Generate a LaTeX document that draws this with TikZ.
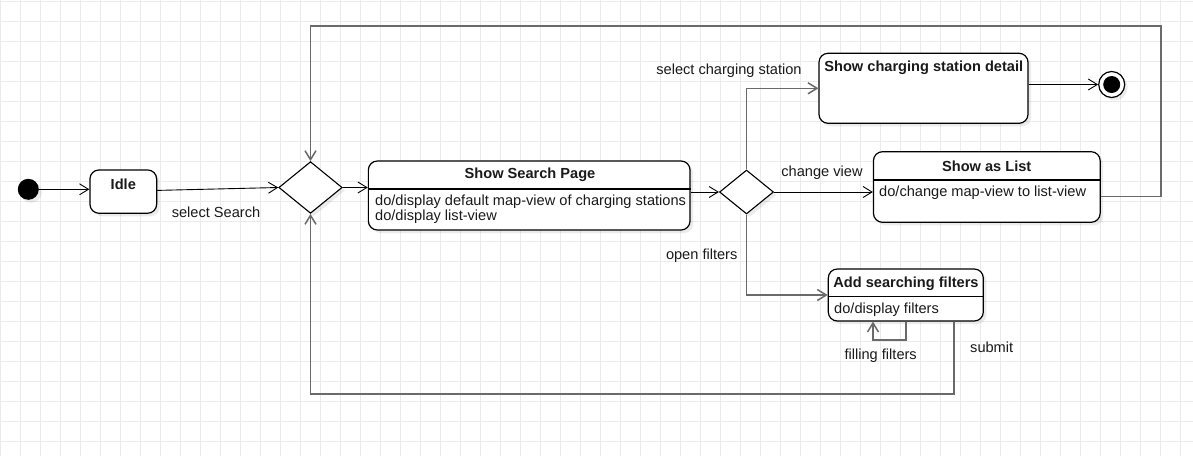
\documentclass[tikz,border=0pt]{standalone}
\usepackage{fontspec}
\setmainfont{Liberation Sans}
\usetikzlibrary{arrows.meta,shapes.geometric,shadows}
\definecolor{gridc}{HTML}{EBEBEB}
\definecolor{edgeg}{HTML}{6A6A6A}
\definecolor{txt}{HTML}{1A1A1A}
\begin{document}
\begin{tikzpicture}[x=1pt,y=-1pt,
  every node/.style={font=\fontsize{14.6}{15}\selectfont, text=txt},
  shad/.style={drop shadow={shadow xshift=3pt, shadow yshift=-3pt, fill=black, opacity=0.08}},
  state/.style={draw=black, line width=1.2pt, rounded corners=9pt, fill=white, inner sep=0pt, shad},
  choice/.style={shape=diamond, draw=black, line width=1.1pt, fill=white, inner sep=0pt, shad},
  title/.style={font=\bfseries\fontsize{14.6}{15}\selectfont, inner sep=0pt},
  body/.style={anchor=west, inner sep=0pt},
  lbl/.style={inner sep=0pt},
  hdr/.style={draw=black, line width=1.1pt},
  arr/.style={-{Straight Barb[length=9pt,width=11pt]}, draw=black, line width=0.9pt},
  garr/.style={-{Straight Barb[length=9pt,width=11pt]}, draw=edgeg, line width=1.5pt},
  gline/.style={draw=edgeg, line width=1.5pt}
]
\useasboundingbox (0,0) rectangle (1193,456);
\fill[white] (0,0) rectangle (1193,456);
\foreach \i in {0,20,...,1180} \draw[gridc, line width=1pt] (\i,0) -- (\i,456);
\foreach \j in {1,21,...,441} \draw[gridc, line width=1pt] (0,\j) -- (1193,\j);

% nodes
\node[circle, fill=black, minimum size=21pt, inner sep=0pt, shad] (init) at (28.3,189.3) {};
\node[state, minimum width=66.7pt, minimum height=43.3pt] (idle) at (123.3,191.6) {};
\node[title] (idleT) at (123.3,184.3) {Idle};
\node[choice, minimum width=63.4pt, minimum height=51.7pt] (d1) at (310.5,187.5) {};
\node[state, minimum width=321.7pt, minimum height=69pt] (ssp) at (529.2,195.5) {};
\draw[hdr] (ssp.west |- 0,189) -- (ssp.east |- 0,189);
\node[title] (sspT) at (530,175) {Show Search Page};
\node[body] (sspB1) at (375,201.7) {do/display default map-view of charging stations};
\node[body] (sspB2) at (375,216.7) {do/display list-view};
\node[choice, minimum width=54pt, minimum height=44pt] (d2) at (746.5,192) {};
\node[state, minimum width=209pt, minimum height=70pt] (scsd) at (923.5,88.3) {};
\node[title, anchor=west] (scsdT) at (824.2,67.3) {Show charging station detail};
\node[circle, draw=black, line width=1.2pt, fill=white, minimum size=26pt, inner sep=0pt, shad] (final) at (1111.7,84.5) {};
\fill[black] (final.center) circle (8.5pt);
\node[state, minimum width=226.7pt, minimum height=70.6pt] (sal) at (986.8,187) {};
\draw[hdr] (sal.west |- 0,180) -- (sal.east |- 0,180);
\node[title] (salT) at (986.7,166.7) {Show as List};
\node[body] (salB) at (879,192.3) {do/change map-view to list-view};
\node[state, minimum width=155pt, minimum height=52pt] (asf) at (905.8,295) {};
\draw[hdr] (asf.west |- 0,296.7) -- (asf.east |- 0,296.7);
\node[title] (asfT) at (906,283.3) {Add searching filters};
\node[body] (asfB) at (834,309.3) {do/display filters};

% coordinates for bends
\coordinate (loopR) at (1161,26);
\coordinate (loopB) at (954,394);
\coordinate (selfA) at (906,340);
\coordinate (selfB) at (873,340);

% connectors
\draw[arr] (init) -- (init -| idle.west);
\draw[arr] ([yshift=1.2pt]idle.east) -- (d1.west);
\draw[arr] (d1.east) -- (d1.east -| ssp.west);
\draw[arr] (ssp.east |- d2.west) -- (d2.west);
\draw[garr] (d2.north) |- (scsd.west);
\draw[arr] (scsd.east |- final) -- (final.west);
\draw[arr] (d2.east) -- (d2.east -| sal.west);
\draw[garr] ([yshift=-9.7pt]sal.east) -| (loopR) -| (d1.north);
\draw[garr] (d2.south) |- (asf.west);
\draw[garr] (asf.south -| selfA) -- (selfA) -- (selfB) -- (asf.south -| selfB);
\draw[garr] (asf.south -| loopB) -- (loopB) -| (d1.south);

% labels
\node[lbl] (l1) at (216,212.3) {select Search};
\node[lbl] (l2) at (729,70.7) {select charging station};
\node[lbl] (l3) at (822,172.3) {change view};
\node[lbl] (l4) at (701.7,255.7) {open filters};
\node[lbl] (l5) at (880.7,356) {filling filters};
\node[lbl] (l6) at (991.7,347.3) {submit};
\end{tikzpicture}
\end{document}
